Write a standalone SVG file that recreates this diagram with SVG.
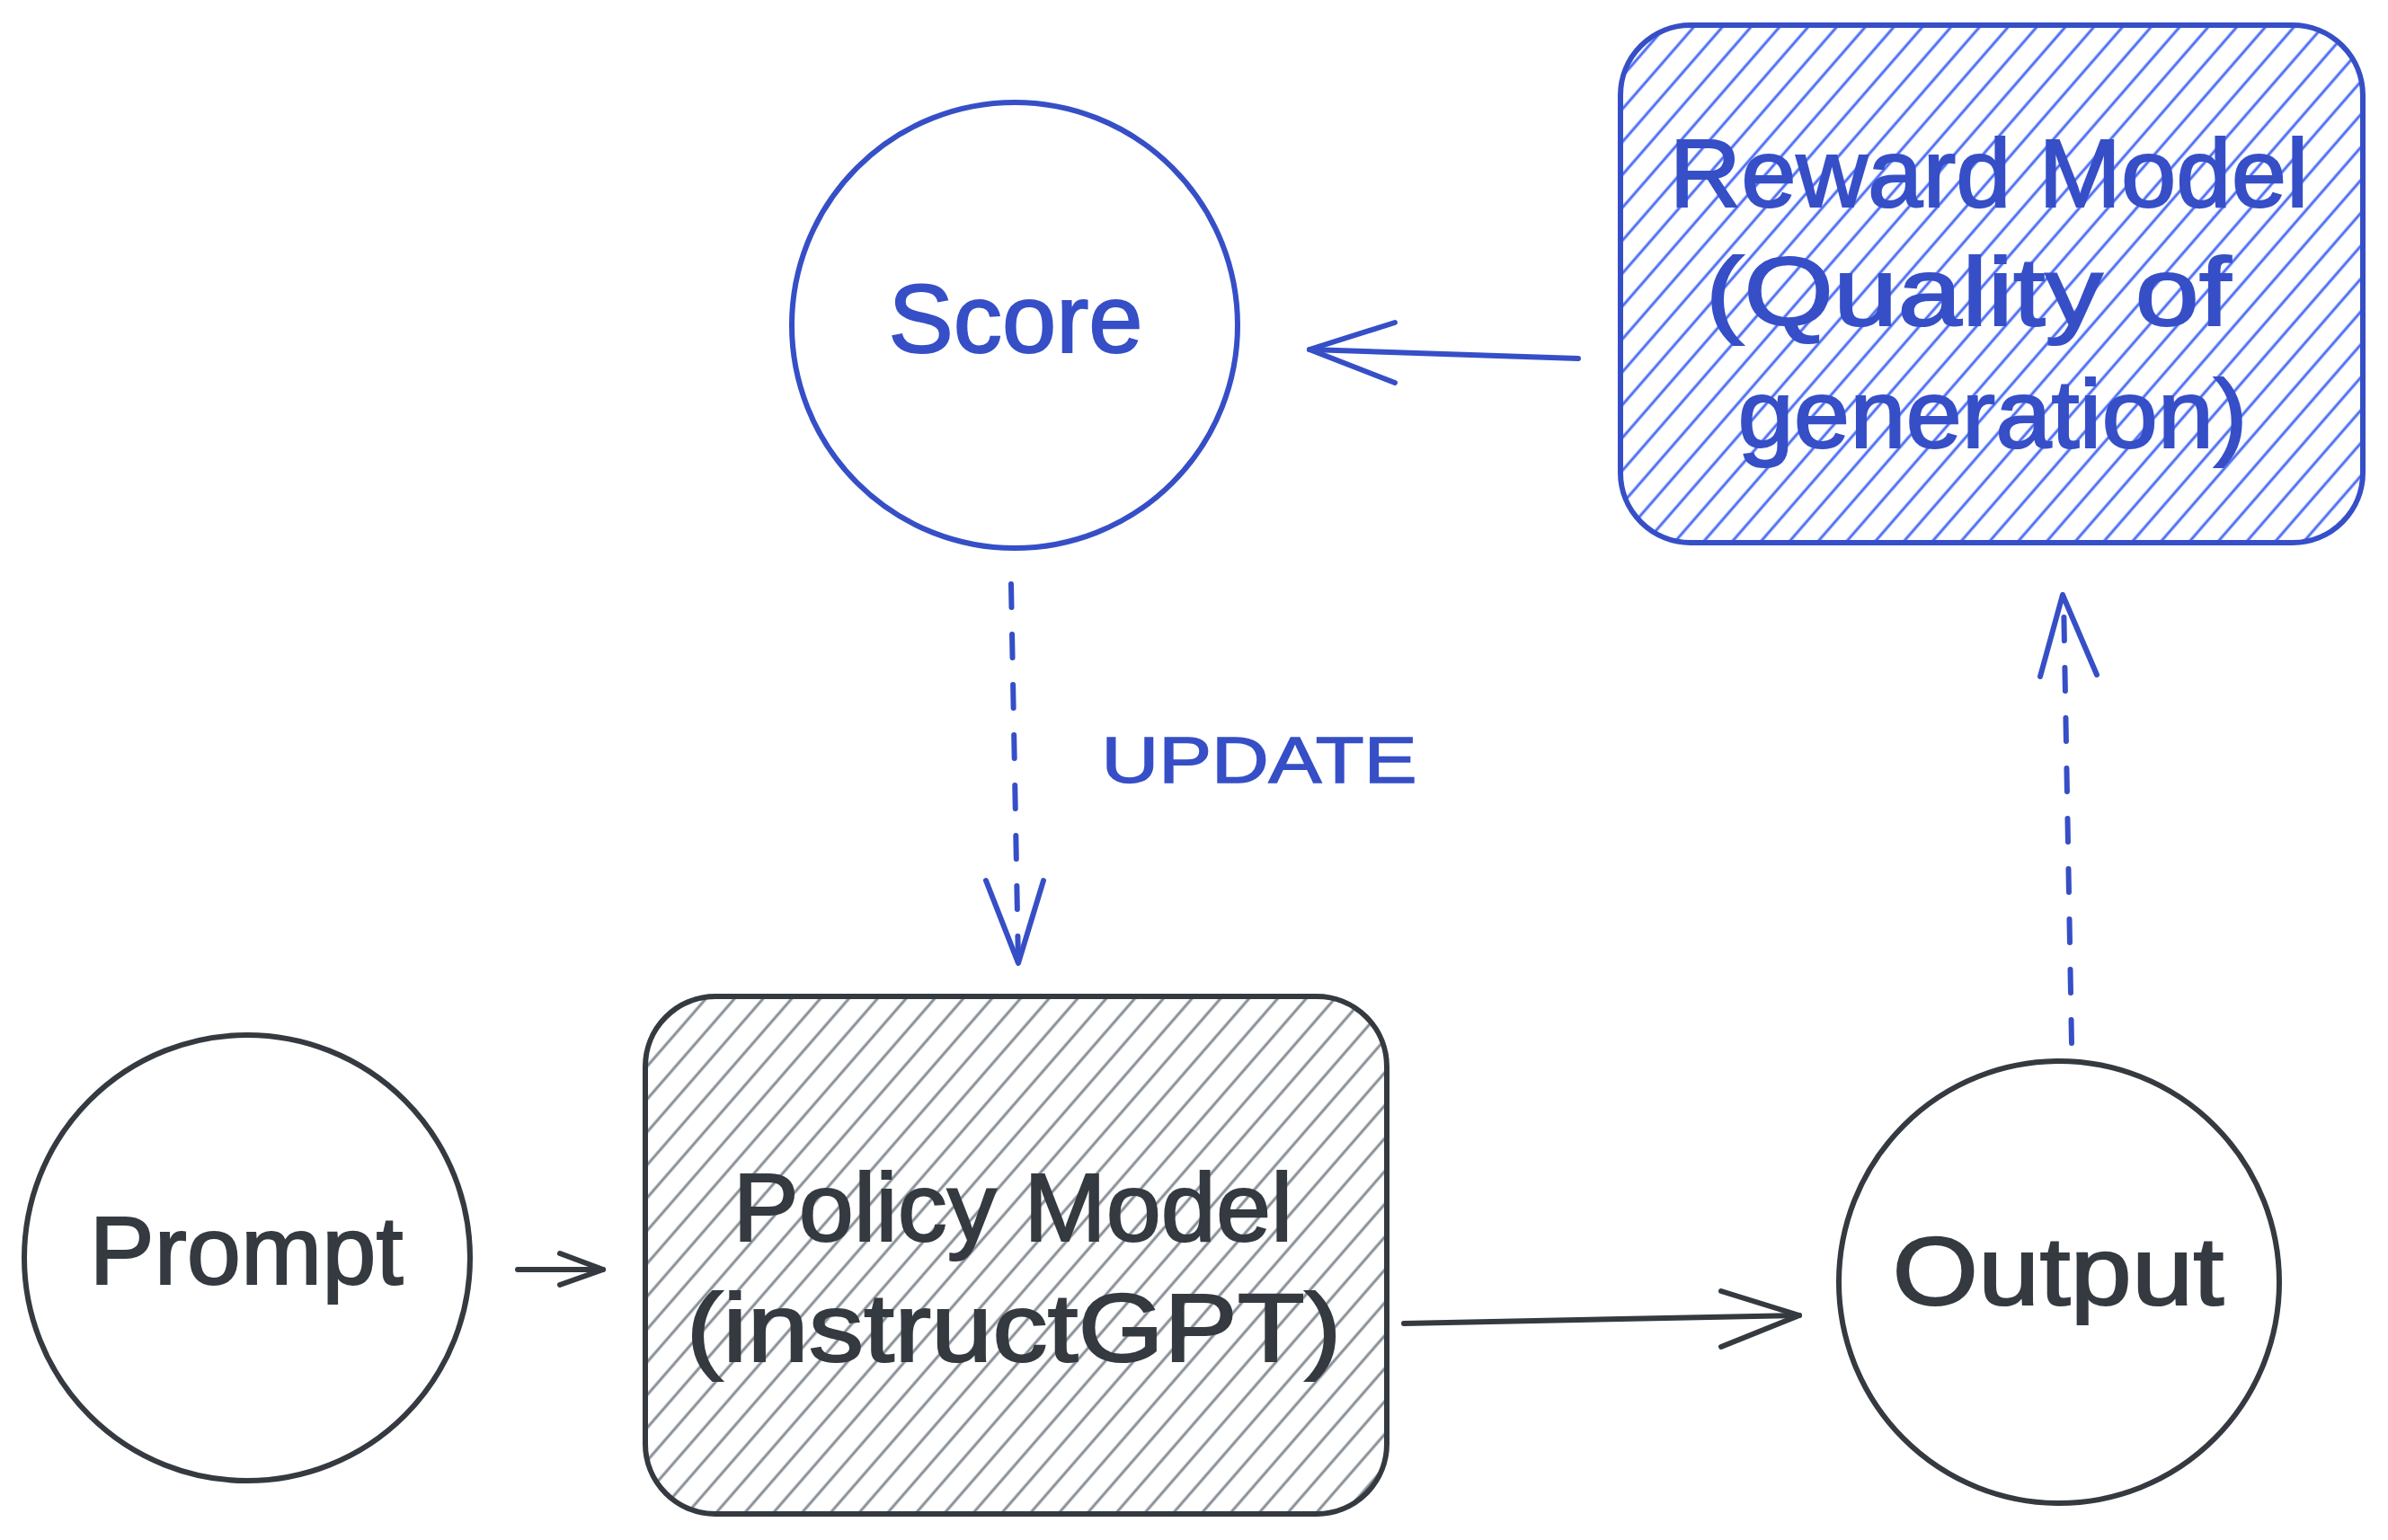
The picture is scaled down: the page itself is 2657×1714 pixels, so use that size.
<svg xmlns="http://www.w3.org/2000/svg" width="2657" height="1714" viewBox="0 0 2657 1714">
  <style>
    .dk { stroke: #343a40; fill: none; stroke-width: 6; stroke-linecap: round; stroke-linejoin: round; }
    .bl { stroke: #364fc7; fill: none; stroke-width: 6; stroke-linecap: round; stroke-linejoin: round; }
    .dash { stroke-dasharray: 26 30; }
    .tdk { fill: #343a40; stroke: #343a40; stroke-width: 2; font-family: "Liberation Sans", Arial, sans-serif; font-size: 108px; text-anchor: middle; }
    .tbl { fill: #364fc7; stroke: #364fc7; stroke-width: 2; font-family: "Liberation Sans", Arial, sans-serif; font-size: 108px; text-anchor: middle; }
  </style>
  <defs>
    <pattern id="hatchDk" patternUnits="userSpaceOnUse" width="24" height="24" patternTransform="rotate(41)">
      <line x1="2" y1="0" x2="2" y2="24" stroke="#868e96" stroke-width="3"/>
    </pattern>
    <pattern id="hatchBl" patternUnits="userSpaceOnUse" width="24" height="24" patternTransform="rotate(41)">
      <line x1="2" y1="0" x2="2" y2="24" stroke="#4c6ef5" stroke-width="3"/>
    </pattern>
  </defs>
  <rect width="2657" height="1714" fill="#ffffff"/>

  <g id="reward-model">
    <rect x="1803" y="28" width="826" height="576" rx="78" ry="78" fill="url(#hatchBl)"/>
    <rect x="1803" y="28" width="826" height="576" rx="78" ry="78" class="bl" stroke-width="7"/>
    <text class="tbl" x="2213" y="230" textLength="711" lengthAdjust="spacingAndGlyphs">Reward Model</text>
    <text class="tbl" x="2190" y="362" textLength="585" lengthAdjust="spacingAndGlyphs">(Quality of</text>
    <text class="tbl" x="2217" y="498" textLength="567" lengthAdjust="spacingAndGlyphs">generation)</text>
  </g>

  <g id="score">
    <ellipse cx="1129" cy="362" rx="248" ry="248" class="bl"/>
    <text class="tbl" x="1130" y="392" textLength="283" lengthAdjust="spacingAndGlyphs">Score</text>
  </g>

  <g id="policy-model">
    <rect x="718" y="1109" width="825" height="576" rx="78" ry="78" fill="url(#hatchDk)"/>
    <rect x="718" y="1109" width="825" height="576" rx="78" ry="78" class="dk" stroke-width="7"/>
    <text class="tdk" x="1127" y="1381" textLength="623" lengthAdjust="spacingAndGlyphs">Policy Model</text>
    <text class="tdk" x="1128" y="1515" textLength="729" lengthAdjust="spacingAndGlyphs">(instructGPT)</text>
  </g>

  <g id="prompt">
    <ellipse cx="275" cy="1400" rx="248" ry="248" class="dk"/>
    <text class="tdk" x="274" y="1429" textLength="349" lengthAdjust="spacingAndGlyphs">Prompt</text>
  </g>

  <g id="output">
    <ellipse cx="2291" cy="1427" rx="245" ry="246" class="dk"/>
    <text class="tdk" x="2290" y="1452" textLength="369" lengthAdjust="spacingAndGlyphs">Output</text>
  </g>

  <g id="connectors">
    <g id="reward-to-score">
      <path class="bl" d="M1756 399 L1457 389"/>
      <path class="bl" d="M1552 359 L1457 389 L1552 426"/>
    </g>
    <g id="score-to-policy">
      <path class="bl dash" d="M1125 650 L1133 1072"/>
      <path class="bl" d="M1097 980 L1133 1072 L1161 980"/>
      <text x="1401" y="871" fill="#364fc7" stroke="#364fc7" stroke-width="1.5" font-family="Liberation Sans, Arial, sans-serif" font-size="72" text-anchor="middle" textLength="351" lengthAdjust="spacingAndGlyphs">UPDATE</text>
    </g>
    <g id="prompt-to-policy">
      <path class="dk" d="M576 1413 L671 1413"/>
      <path class="dk" d="M623 1395 L671 1413 L623 1430"/>
    </g>
    <g id="policy-to-output">
      <path class="dk" d="M1562 1473 L2002 1464"/>
      <path class="dk" d="M1915 1437 L2002 1464 L1915 1499"/>
    </g>
    <g id="output-to-reward">
      <path class="bl dash" d="M2305 1161 L2296 664"/>
      <path class="bl" d="M2270 753 L2295 662 L2333 751"/>
    </g>
  </g>
</svg>
